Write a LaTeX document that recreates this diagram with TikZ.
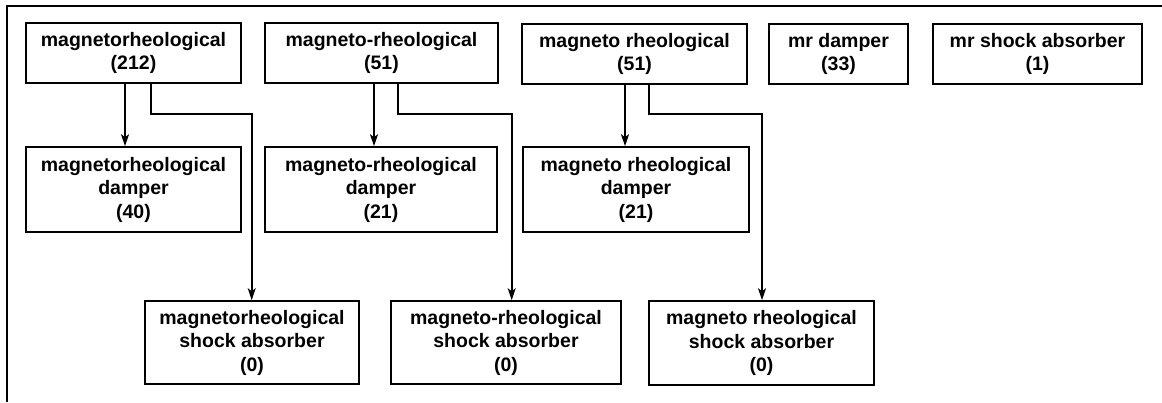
\documentclass[tikz,border=0pt]{standalone}
\usepackage{fontspec}
\setmainfont{Liberation Sans}
\usetikzlibrary{arrows.meta}
\begin{document}
\begin{tikzpicture}[x=1pt,y=-1pt,
  termbox/.style={draw, line width=1.6pt, inner sep=0pt, align=center,
    font=\fontsize{19.5}{23.5}\selectfont\bfseries},
  link/.style={line width=1.6pt, -{Stealth[length=12pt,width=8pt,inset=3pt]}},
  frameline/.style={line width=2.2pt}]
  \useasboundingbox (0,0) rectangle (1162,402);
  % open frame: top and left edges
  \draw[frameline] (7.3,402) -- (7.3,5.7) -- (1162,5.7);

  % place a box by its left, top, right, bottom edges
  \newcommand{\termat}[6]{%
    \node[termbox, minimum width={#4-#2}, minimum height={#5-#3}]
      (#1) at ({(#2+#4)/2},{(#3+#5)/2}) {#6};}

  % top row: search terms
  \termat{A}{26}{23}{241}{83}{magnetorheological\\(212)}
  \termat{B}{265}{23}{498}{83}{magneto-rheological\\(51)}
  \termat{C}{522}{24}{747}{84}{magneto rheological\\(51)}
  \termat{D}{769}{24}{908}{84}{mr damper\\(33)}
  \termat{E}{933}{24}{1142}{84}{mr shock absorber\\(1)}

  % middle row: damper variants
  \termat{A1}{26}{147}{241}{232}{magnetorheological\\damper\\(40)}
  \termat{B1}{265}{147}{497}{232}{magneto-rheological\\damper\\(21)}
  \termat{C1}{523}{147}{749}{232}{magneto rheological\\damper\\(21)}

  % bottom row: shock absorber variants
  \termat{A2}{145}{301}{359}{384}{magnetorheological\\shock absorber\\(0)}
  \termat{B2}{391}{301}{621}{384}{magneto-rheological\\shock absorber\\(0)}
  \termat{C2}{649}{301}{874}{385}{magneto rheological\\shock absorber\\(0)}

  \coordinate (bend) at (0,114);

  % straight links to the damper boxes
  \draw[link] ([xshift=-8.5pt]A.south) -- ([xshift=-8.5pt]A.south |- A1.north);
  \draw[link] ([xshift=-7.5pt]B.south) -- ([xshift=-7.5pt]B.south |- B1.north);
  \draw[link] ([xshift=-9.5pt]C.south) -- ([xshift=-9.5pt]C.south |- C1.north);

  % elbow links to the shock absorber boxes
  \draw[link] ([xshift=17.2pt]A.south) |- ([xshift=-0.3pt]A2.north |- bend)
    -- ([xshift=-0.3pt]A2.north);
  \draw[link] ([xshift=16.5pt]B.south) |- ([xshift=5.7pt]B2.north |- bend)
    -- ([xshift=5.7pt]B2.north);
  \draw[link] ([xshift=14.5pt]C.south) |- ([xshift=0.5pt]C2.north |- bend)
    -- ([xshift=0.5pt]C2.north);
\end{tikzpicture}
\end{document}
